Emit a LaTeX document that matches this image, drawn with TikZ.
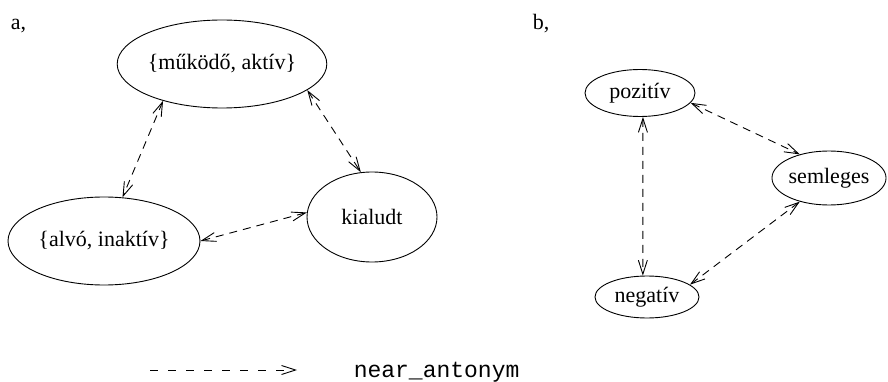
\documentclass[tikz,border=0pt]{standalone}
\usepackage{fontspec}
\setmainfont{Liberation Serif}
\setmonofont{Liberation Mono}
\usetikzlibrary{arrows.meta,shapes.geometric}

\begin{document}
\begin{tikzpicture}[x=1pt, y=-1pt, line width=0.9pt, font=\fontsize{22}{26}\selectfont,
		>={Straight Barb[length=14pt,width=9pt]},
		concept/.style={draw, ellipse, inner sep=0pt},
		rel/.style={<->, dash pattern=on 8pt off 6pt}]
		\useasboundingbox (0,0) rectangle (888,382);
		% a,
		\node[anchor=base west] (lbla) at (7,30) {a,};
		\node[concept, minimum width=188, minimum height=88] (mukodo) at (222,64) {\{működő, aktív\}};
		\node[concept, minimum width=192, minimum height=88] (alvo) at (104,241) {\{alvó, inaktív\}};
		\node[concept, minimum width=130, minimum height=90] (kialudt) at (372,217) {kialudt};
		\draw[rel] (mukodo.212) -- (alvo.67);
		\draw[rel] (mukodo.343) -- (kialudt.104);
		\draw[rel] (alvo.0) -- (kialudt.176);
		% b,
		\node[anchor=base west] (lblb) at (529,30) {b,};
		\node[concept, minimum width=110, minimum height=47] (pozitiv) at (640,93) {pozitív};
		\node[concept, minimum width=104, minimum height=42] (negativ) at (647,297) {negatív};
		\node[concept, minimum width=108, minimum height=54] (semleges) at (829,178) {semleges};
		\draw[rel] (pozitiv.277) -- (negativ.101);
		\draw[rel] (pozitiv.349) -- (semleges.141);
		\draw[rel] (semleges.219) -- (negativ.16);
		% legend
		\coordinate (legs) at (150,370);
		\coordinate (lege) at (297,370);
		\draw[->, dash pattern=on 8pt off 10pt] (legs) -- (lege);
		\node[anchor=base west, font=\fontsize{23}{26}\selectfont\ttfamily] (legtext) at (350,377) {near\_antonym};
	\end{tikzpicture}
\end{document}
